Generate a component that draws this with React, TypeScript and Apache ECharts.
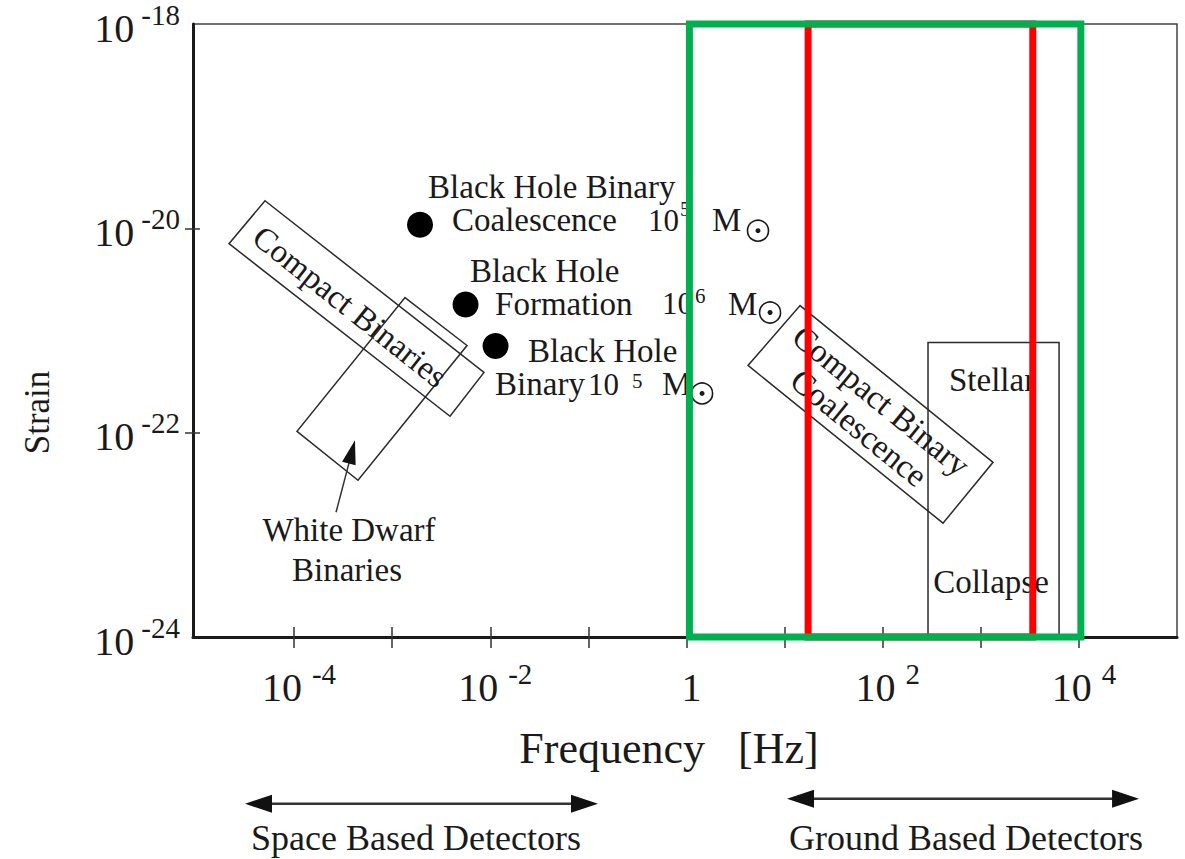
import React, { useEffect, useRef } from 'react';
import * as echarts from 'echarts';

const SERIF = '"Liberation Serif", "Times New Roman", Times, serif';
const INK = '#1a1a1a';

// ---- axes (log10 units) ----
const FREQ_RANGE = [-5.03, 5];
const STRAIN_RANGE = [-24, -18];
const FREQ_TICKS = [-4, -3, -2, -1, 0, 1, 2, 3, 4];
const FREQ_LABELS = [-4, -2, 0, 2, 4];
const STRAIN_TICKS = [-22, -20];
const STRAIN_LABELS = [-24, -22, -20, -18];

// ---- black-hole sources (filled dots) ----
const SOURCE_LOG_F = [-2.716, -2.252, -1.946];
const SOURCE_LOG_H = [-19.964, -20.746, -21.152];

// ---- solar-mass symbols ----
const SUN_LOG_F = [0.729, 0.852, 0.159];
const SUN_LOG_H = [-20.023, -20.824, -21.616];

// ---- source regions (outlined boxes) ----
const REGION_NAMES = ['Compact Binaries', 'White Dwarf Binaries', 'Compact Binary Coalescence', 'Stellar Collapse'];
const REGION_LOG_F = [
  [-4.296, -2.064, -2.41, -4.663],
  [-2.869, -2.237, -3.348, -3.97],
  [1.158, 3.125, 2.615, 0.627],
  [2.462, 3.798, 3.798, 2.462],
];
const REGION_LOG_H = [
  [-19.73, -21.411, -21.84, -20.15],
  [-20.678, -21.147, -22.466, -21.987],
  [-20.756, -22.29, -22.886, -21.342],
  [-21.117, -21.117, -24, -24],
];

// ---- detector bands ----
const BAND_NAMES = ['inner band', 'ground band'];
const BAND_LOG_F = [
  [1.24, 3.53],
  [0.03, 4.02],
];
const BAND_LOG_H = [-24, -18];

// ---- arrows ----
const ARROW_FROM_F = [-3.572, -4.5, 1.025];
const ARROW_FROM_H = [-22.779, -25.632, -25.583];
const ARROW_TO_F = [-3.379, -0.902, 4.613];
const ARROW_TO_H = [-22.075, -25.632, -25.583];
const ARROW_BOTH = [false, true, true];

// ---- text annotations ----
const NOTE_TEXT = [
  'Black Hole Binary', 'Coalescence', '10', '5', 'M',
  'Black Hole', 'Formation', '10', '6', 'M',
  'Black Hole', 'Binary', '10', '5', 'M',
  'Compact Binaries', 'White Dwarf', 'Binaries',
  'Compact Binary\nCoalescence', 'Stellar', 'Collapse',
  'Space Based Detectors', 'Ground Based Detectors',
];
const NOTE_LOG_F = [
  -2.634, -2.39, -0.392, -0.066, 0.261,
  -2.206, -1.951, -0.249, 0.087, 0.424,
  -1.615, -1.951, -1.003, -0.555, -0.249,
  -3.43, -3.44, -3.46,
  1.871, 3.115, 3.105,
  -2.757, 2.85,
];
const NOTE_LOG_H = [
  -19.593, -19.92, -19.92, -19.808, -19.92,
  -20.414, -20.736, -20.736, -20.658, -20.736,
  -21.196, -21.528, -21.528, -21.498, -21.528,
  -20.766, -22.955, -23.345,
  -21.821, -21.489, -23.463,
  -25.964, -25.964,
];
const NOTE_KIND = [
  'left', 'left', 'ten', 'sup', 'left',
  'left', 'left', 'ten', 'sup', 'left',
  'left', 'left', 'ten', 'sup', 'left',
  'center', 'center', 'center',
  'center', 'center', 'center',
  'caption', 'caption',
];
const NOTE_ANGLE = [
  0, 0, 0, 0, 0,
  0, 0, 0, 0, 0,
  0, 0, 0, 0, 0,
  38.5, 0, 0,
  39.2, 0, 0,
  0, 0,
];

// ---- styles ----
const NOTE_STYLE: Record<string, { size: number; align: string; lineHeight: number }> = {
  left: { size: 33, align: 'left', lineHeight: 30 },
  ten: { size: 31, align: 'left', lineHeight: 28 },
  sup: { size: 21, align: 'left', lineHeight: 20 },
  center: { size: 33, align: 'center', lineHeight: 35 },
  caption: { size: 36, align: 'center', lineHeight: 40 },
};
const BAND_COLORS = ['#ff0000', '#00b050'];

const xLabelRich = {
  b: { fontFamily: SERIF, fontSize: 40, color: INK, lineHeight: 48, verticalAlign: 'bottom' },
  s: { fontFamily: SERIF, fontSize: 29, color: INK, lineHeight: 29, verticalAlign: 'top', padding: [0, 0, 0, 10] },
};
const yLabelRich = {
  b: { fontFamily: SERIF, fontSize: 40, color: INK, lineHeight: 48, verticalAlign: 'bottom' },
  s: { fontFamily: SERIF, fontSize: 29, color: INK, lineHeight: 29, verticalAlign: 'top', padding: [0, 0, 0, 7] },
};

function powLabel(v: number) {
  const e = Math.round(v);
  if (e === 0) return '{b|1}';
  return `{b|10}{s|${e}}`;
}

function buildOption() {
  const noteData = NOTE_LOG_F.map((f, i) => [f, NOTE_LOG_H[i]]);
  const regionData = REGION_LOG_F.map((fs, i) => ({ name: REGION_NAMES[i], value: [fs[0], REGION_LOG_H[i][0]] }));
  const bandData = BAND_LOG_F.map((fs, i) => ({ name: BAND_NAMES[i], value: [fs[0], BAND_LOG_H[0]] }));
  const arrowData = ARROW_FROM_F.map((f, i) => [f, ARROW_FROM_H[i]]);

  return {
    animation: false,
    backgroundColor: '#ffffff',
    grid: { left: 193, top: 23, right: 8, bottom: 222, show: true, borderColor: '#444', borderWidth: 1.5 },
    xAxis: [
      {
        type: 'value',
        min: FREQ_RANGE[0],
        max: FREQ_RANGE[1],
        position: 'bottom',
        splitLine: { show: false },
        axisLine: { show: true, onZero: false, lineStyle: { color: INK, width: 3 } },
        axisTick: { show: true, customValues: FREQ_TICKS, length: 11, lineStyle: { color: '#333', width: 1.5 } },
        axisLabel: { customValues: FREQ_LABELS, formatter: powLabel, rich: xLabelRich, margin: 22, padding: [0, 0, 0, 10] },
        name: 'Frequency\u00a0\u00a0\u00a0[Hz]',
        nameLocation: 'middle',
        nameGap: 86,
        nameTextStyle: { fontFamily: SERIF, fontSize: 44, lineHeight: 50, color: INK, padding: [0, 32, 0, 0] },
      },
      {
        type: 'value',
        min: FREQ_RANGE[0],
        max: FREQ_RANGE[1],
        position: 'bottom',
        splitLine: { show: false },
        axisLine: { show: false, onZero: false },
        axisTick: { show: true, inside: true, customValues: FREQ_TICKS, length: 10, lineStyle: { color: '#333', width: 1.5 } },
        axisLabel: { show: false },
      },
    ],
    yAxis: [
      {
        type: 'value',
        min: STRAIN_RANGE[0],
        max: STRAIN_RANGE[1],
        position: 'left',
        splitLine: { show: false },
        axisLine: { show: true, onZero: false, lineStyle: { color: INK, width: 3 } },
        axisTick: { show: true, customValues: STRAIN_TICKS, length: 8, lineStyle: { color: '#333', width: 1.5 } },
        axisLabel: { customValues: STRAIN_LABELS, formatter: powLabel, rich: yLabelRich, margin: 13 },
        name: 'Strain',
        nameLocation: 'middle',
        nameRotate: 90,
        nameGap: 136,
        nameTextStyle: { fontFamily: SERIF, fontSize: 35, lineHeight: 40, color: INK, padding: [0, 164, 0, 0] },
      },
      {
        type: 'value',
        min: STRAIN_RANGE[0],
        max: STRAIN_RANGE[1],
        position: 'left',
        splitLine: { show: false },
        axisLine: { show: false, onZero: false },
        axisTick: { show: true, inside: true, customValues: STRAIN_TICKS, length: 7, lineStyle: { color: '#333', width: 1.5 } },
        axisLabel: { show: false },
      },
    ],
    series: [
      {
        name: 'regions',
        type: 'custom',
        coordinateSystem: 'cartesian2d',
        data: regionData,
        z: 2,
        renderItem: (params: any, api: any) => {
          const i = params.dataIndex;
          const pts = REGION_LOG_F[i].map((f, k) => api.coord([f, REGION_LOG_H[i][k]]));
          return {
            type: 'polygon',
            shape: { points: pts },
            style: { fill: 'none', stroke: '#2a2a2a', lineWidth: 1.5 },
          };
        },
      },
      {
        name: 'arrows',
        type: 'custom',
        coordinateSystem: 'cartesian2d',
        data: arrowData,
        z: 2,
        clip: false,
        renderItem: (params: any, api: any) => {
          const i = params.dataIndex;
          const a = api.coord([ARROW_FROM_F[i], ARROW_FROM_H[i]]);
          const b = api.coord([ARROW_TO_F[i], ARROW_TO_H[i]]);
          const big = ARROW_BOTH[i];
          const L = big ? 27 : 24;
          const W = big ? 18 : 14;
          const lw = big ? 2.5 : 1.5;
          const dx = b[0] - a[0];
          const dy = b[1] - a[1];
          const len = Math.hypot(dx, dy);
          const ux = dx / len;
          const uy = dy / len;
          const nx = -uy;
          const ny = ux;
          const head = (tip: number[], sx: number, sy: number) => ({
            type: 'polygon',
            shape: {
              points: [
                [tip[0], tip[1]],
                [tip[0] - sx * L + nx * W / 2, tip[1] - sy * L + ny * W / 2],
                [tip[0] - sx * L - nx * W / 2, tip[1] - sy * L - ny * W / 2],
              ],
            },
            style: { fill: '#111' },
          });
          const start = big ? [a[0] + ux * L * 0.8, a[1] + uy * L * 0.8] : a;
          const end = [b[0] - ux * L * 0.8, b[1] - uy * L * 0.8];
          const children: any[] = [
            {
              type: 'line',
              shape: { x1: start[0], y1: start[1], x2: end[0], y2: end[1] },
              style: { stroke: '#333', lineWidth: lw },
            },
            head(b, ux, uy),
          ];
          if (big) children.push(head(a, -ux, -uy));
          return { type: 'group', children };
        },
      },
      {
        name: 'sources',
        type: 'scatter',
        data: SOURCE_LOG_F.map((f, i) => [f, SOURCE_LOG_H[i]]),
        symbol: 'circle',
        symbolSize: 26,
        itemStyle: { color: '#000', opacity: 1 },
        z: 3,
      },
      {
        name: 'sun ring',
        type: 'scatter',
        data: SUN_LOG_F.map((f, i) => [f, SUN_LOG_H[i]]),
        symbol: 'circle',
        symbolSize: 21,
        itemStyle: { color: '#ffffff', borderColor: INK, borderWidth: 1.6, opacity: 1 },
        z: 3,
      },
      {
        name: 'sun dot',
        type: 'scatter',
        data: SUN_LOG_F.map((f, i) => [f, SUN_LOG_H[i]]),
        symbol: 'circle',
        symbolSize: 5,
        itemStyle: { color: INK, opacity: 1 },
        z: 3,
      },
      {
        name: 'notes',
        type: 'custom',
        coordinateSystem: 'cartesian2d',
        data: noteData,
        z: 4,
        clip: false,
        renderItem: (params: any, api: any) => {
          const i = params.dataIndex;
          const p = api.coord([NOTE_LOG_F[i], NOTE_LOG_H[i]]);
          const st = NOTE_STYLE[NOTE_KIND[i]];
          return {
            type: 'text',
            x: p[0],
            y: p[1],
            rotation: (-NOTE_ANGLE[i] * Math.PI) / 180,
            style: {
              text: NOTE_TEXT[i],
              fill: INK,
              fontFamily: SERIF,
              fontSize: st.size,
              lineHeight: st.lineHeight,
              align: st.align,
              verticalAlign: 'middle',
            },
          };
        },
      },
      {
        name: 'bands',
        type: 'custom',
        coordinateSystem: 'cartesian2d',
        data: bandData,
        z: 10,
        renderItem: (params: any, api: any) => {
          const i = params.dataIndex;
          const [f0, f1] = BAND_LOG_F[i];
          const [h0, h1] = BAND_LOG_H;
          const pts = [
            api.coord([f0, h1]),
            api.coord([f1, h1]),
            api.coord([f1, h0]),
            api.coord([f0, h0]),
          ];
          return {
            type: 'polygon',
            shape: { points: pts },
            style: { fill: 'none', stroke: BAND_COLORS[i], lineWidth: 7, lineJoin: 'miter' },
          };
        },
      },
    ],
  };
}

export default function App() {
  const ref = useRef<HTMLDivElement>(null);
  useEffect(() => {
    document.body.style.margin = '0';
    const chart = echarts.init(ref.current as HTMLDivElement, null, { renderer: 'svg' });
    chart.setOption(buildOption() as any);
    return () => {
      chart.dispose();
    };
  }, []);
  return <div ref={ref} style={{ width: 1185, height: 859, background: '#ffffff' }} />;
}
